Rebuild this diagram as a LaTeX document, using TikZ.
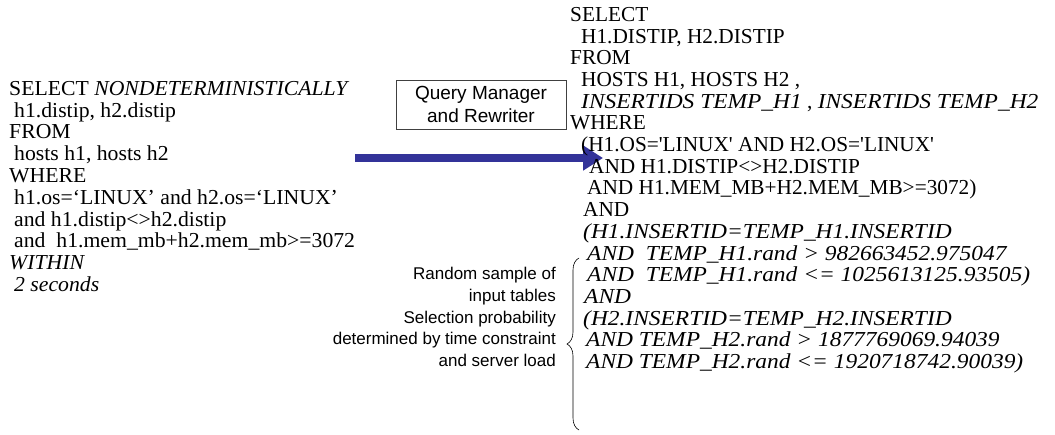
\documentclass[tikz,border=0pt]{standalone}
\usepackage{fontspec}
\setmainfont{Liberation Serif}
\setsansfont{Liberation Sans}
\newfontfamily\origfont[FakeStretch=1.02]{Liberation Serif}
\newfontfamily\rewrfont{Liberation Serif}
\newfontfamily\rewritfont[FakeStretch=1.10]{Liberation Serif}
\newcommand{\qit}[1]{{\itshape #1}}
\newcommand{\rit}[1]{{\rewritfont\itshape #1}}
\usepackage{tikz}
\usetikzlibrary{arrows.meta, positioning, calc, decorations.pathreplacing}
\usepackage{xcolor}
\definecolor{arrowblue}{HTML}{333399}
\definecolor{boxgray}{HTML}{404040}

\begin{document}
\begin{tikzpicture}[x=1pt, y=-1pt,
    sqltext/.style={anchor=north west, inner sep=0pt, align=left},
    notetext/.style={inner sep=0pt, align=right, font=\sffamily\fontsize{17}{21.9}\selectfont},
    rewritebox/.style={draw=boxgray, line width=0.6pt, fill=white, inner sep=0pt, minimum width=170pt, minimum height=49pt, align=center, font=\sffamily\fontsize{19}{23}\selectfont}]
    \useasboundingbox (0,0) rectangle (1055,434);
    % original query
    \node[sqltext, font=\origfont\fontsize{21.3}{21.8}\selectfont] (orig) at (9,81) {
        SELECT \qit{NONDETERMINISTICALLY}\\
        \hspace*{5pt}h1.distip, h2.distip\\
        FROM\\
        \hspace*{5pt}hosts h1, hosts h2\\
        WHERE\\
        \hspace*{5pt}h1.os=‘LINUX’ and h2.os=‘LINUX’\\
        \hspace*{5pt}and h1.distip<>h2.distip\\
        \hspace*{5pt}and\ \ h1.mem\_mb+h2.mem\_mb>=3072\\
        \qit{WITHIN}\\
        \hspace*{5pt}\qit{2 seconds}
    };
    % rewriter
    \node[rewritebox] (qm) at (481,104.5) {Query Manager\\and Rewriter};
    \coordinate (arrstart) at (355,158);
    \coordinate (arrend) at (603,158);
    \draw[arrowblue, line width=8pt, -{Triangle[length=20pt, width=24pt]}] (arrstart) -- (arrend);
    % rewritten query
    \node[sqltext, font=\rewrfont\fontsize{21.3}{21.7}\selectfont] (rewr) at (570,7) {
        SELECT\\
        \hspace*{11pt}H1.DISTIP, H2.DISTIP\\
        FROM\\
        \hspace*{11pt}HOSTS H1, HOSTS H2 ,\\
        \hspace*{11pt}\rit{INSERTIDS TEMP\_H1} , \rit{INSERTIDS TEMP\_H2}\\
        WHERE\\
        \hspace*{11pt}(H1.OS='LINUX' AND H2.OS='LINUX'\\
        \hspace*{19pt}AND H1.DISTIP<>H2.DISTIP\\
        \hspace*{17pt}AND H1.MEM\_MB+H2.MEM\_MB>=3072)\\
        \hspace*{13pt}AND\\
        \hspace*{13pt}\rit{(H1.INSERTID=TEMP\_H1.INSERTID}\\
        \hspace*{17pt}\rit{AND\ \ TEMP\_H1.rand > 982663452.975047}\\
        \hspace*{17pt}\rit{AND\ \ TEMP\_H1.rand <= 1025613125.93505)}\\
        \hspace*{14pt}\rit{AND}\\
        \hspace*{13pt}\rit{(H2.INSERTID=TEMP\_H2.INSERTID}\\
        \hspace*{16pt}\rit{AND TEMP\_H2.rand > 1877769069.94039}\\
        \hspace*{16pt}\rit{AND TEMP\_H2.rand <= 1920718742.90039)}
    };
    % sampling note
    \coordinate (bracelow) at (579,430);
    \coordinate (bracehigh) at (579,258);
    \draw[line width=0.6pt, decorate, decoration={brace, amplitude=12pt}] (bracelow) -- (bracehigh);
    \node[notetext, anchor=east] (note) at (556,317) {
        Random sample of\\
        input tables\\
        Selection probability\\
        determined by time constraint\\
        and server load
    };
\end{tikzpicture}
\end{document}
